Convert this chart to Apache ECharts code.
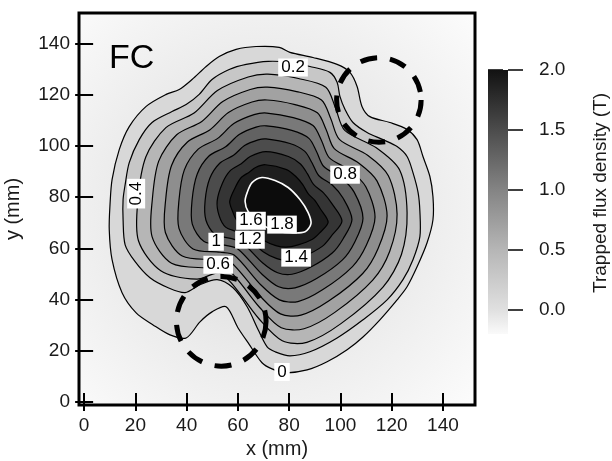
<!DOCTYPE html>
<html>
<head>
<meta charset="utf-8">
<script src="https://cdn.jsdelivr.net/npm/echarts@6/dist/echarts.min.js"></script>
<style>
  html, body { margin: 0; background: #fff; }
  #chart { width: 612px; height: 461px; }
</style>
</head>
<body>
<div id="chart"></div>
<script>
// trapped flux density map (FC) - contour levels in T, coordinates in mm
const levels = [0, 0.2, 0.4, 0.6, 0.8, 1.0, 1.2, 1.4, 1.6, 1.8, 2.0]

const lev00 = [[67.1,138.9],[76.1,138.6],[80.3,136.6],[89.3,134.6],[98.7,131.9],[103.7,128.8],[106.5,123.3],[108.4,115.5],[111.5,111.5],[119.3,109.2],[126.0,106.5],[129.9,102.5],[132.2,95.9],[134.9,88.1],[136.1,80.2],[136.1,71.2],[133.8,62.2],[129.9,52.8],[126.0,45.0],[122.1,39.9],[115.4,32.1],[108.8,25.4],[102.6,20.4],[94.8,15.7],[87.0,12.5],[78.4,11.4],[73.3,12.9],[69.4,15.3],[64.4,22.5],[60.0,29.0],[55.4,37.2],[49.9,35.2],[45.2,31.3],[39.8,25.0],[33.5,26.2],[26.9,30.1],[20.3,34.8],[14.8,42.7],[10.9,55.6],[9.8,67.3],[10.1,77.1],[10.9,86.9],[13.7,98.6],[17.6,107.6],[24.2,115.5],[32.0,120.2],[37.1,122.1],[42.1,126.0],[47.6,131.1],[52.7,135.0],[59.3,137.8]]
const lev02 = [[63.2,131.9],[71.8,133.1],[80.3,132.7],[88.1,131.1],[95.9,128.8],[98.7,124.9],[99.8,119.4],[101.8,114.3],[104.9,109.2],[110.4,105.3],[116.6,102.5],[122.1,99.8],[126.0,95.9],[128.3,89.6],[130.3,81.8],[131.0,74.4],[131.0,64.6],[128.3,55.6],[124.4,47.8],[118.2,39.9],[108.8,32.1],[98.7,25.0],[88.1,19.6],[80.3,18.0],[74.5,19.6],[71.4,21.5],[67.9,28.2],[63.6,37.2],[58.1,44.6],[51.9,47.8],[45.2,45.8],[39.4,42.7],[32.8,44.6],[25.7,48.5],[19.9,54.8],[16.0,61.4],[15.2,71.2],[15.2,79.1],[16.0,84.9],[17.6,93.5],[21.5,102.5],[26.5,109.2],[34.3,113.5],[39.8,116.2],[44.9,120.2],[49.9,126.0],[56.6,129.9]]
const lev04 = [[71.7,128.1],[83.6,126.4],[94.3,123.0],[98.0,115.1],[101.7,106.1],[114.0,99.3],[123.1,90.6],[126.0,73.9],[123.8,57.6],[116.6,44.9],[100.2,30.6],[86.9,23.3],[77.3,23.9],[68.2,32.5],[53.5,50.2],[44.0,48.0],[29.9,51.3],[21.2,63.0],[21.0,79.0],[24.1,95.8],[31.9,107.2],[42.9,112.9],[52.0,121.7],[64.0,127.0]]
const lev06 = [[71.5,123.0],[82.9,121.3],[92.6,118.0],[96.2,110.8],[99.6,102.6],[110.6,96.4],[118.7,88.4],[122.1,73.4],[119.2,58.8],[112.6,47.6],[97.8,35.0],[85.8,28.6],[76.9,29.0],[68.5,36.9],[55.2,52.6],[47.8,52.4],[34.1,54.2],[26.5,64.6],[26.6,79.0],[29.1,94.1],[36.1,104.4],[45.9,109.6],[54.1,117.4],[64.8,122.1]]
const lev08 = [[71.4,118.0],[82.3,116.2],[91.0,113.0],[94.4,106.5],[97.6,99.0],[107.1,93.4],[114.3,86.3],[118.2,72.8],[114.7,60.0],[108.7,50.2],[95.4,39.4],[84.6,33.9],[76.6,34.4],[68.8,41.2],[56.8,55.0],[50.5,55.6],[38.3,57.0],[31.7,66.2],[31.8,78.9],[34.1,92.4],[40.3,101.6],[49.0,106.3],[56.3,113.1],[65.5,117.2]]
const lev10 = [[71.3,112.9],[81.6,111.1],[89.3,108.0],[92.6,102.2],[95.6,95.5],[103.7,90.5],[109.9,84.1],[113.5,72.3],[110.1,61.2],[104.7,52.9],[93.0,43.8],[83.4,39.2],[76.2,39.9],[69.1,45.6],[58.5,57.4],[53.1,58.5],[42.5,59.8],[37.0,67.8],[37.0,78.8],[39.1,90.7],[44.5,98.8],[52.1,103.0],[58.4,108.8],[66.3,112.3]]
const lev12 = [[71.1,107.9],[81.0,106.1],[87.7,103.0],[90.7,97.8],[93.5,92.0],[100.3,87.6],[105.4,81.9],[108.8,71.8],[105.6,62.5],[100.8,55.5],[90.7,48.2],[82.3,44.6],[75.9,45.0],[69.4,49.9],[60.1,59.7],[55.3,61.2],[46.8,62.7],[42.2,69.5],[42.1,78.7],[44.1,89.0],[48.7,96.1],[55.2,99.7],[60.5,104.5],[67.1,107.4]]
const lev14 = [[71.0,102.8],[80.3,101.0],[86.0,98.0],[88.9,93.5],[91.5,88.5],[96.9,84.7],[101.0,79.7],[104.5,71.3],[101.0,63.7],[96.8,58.2],[88.3,52.6],[81.1,49.9],[75.5,50.5],[69.7,54.3],[61.8,62.1],[57.6,63.8],[51.0,65.5],[47.5,71.1],[47.2,78.6],[49.0,87.3],[52.9,93.3],[58.3,96.4],[62.6,100.2],[67.9,102.4]]
const lev16 = [[70.9,97.8],[79.7,95.9],[84.4,93.0],[87.1,89.2],[89.5,85.0],[93.4,81.7],[96.6,77.6],[100.6,70.7],[96.5,64.9],[92.9,60.8],[85.9,57.0],[79.9,55.2],[75.2,56.0],[70.0,58.6],[63.4,64.5],[59.9,66.4],[55.2,68.3],[52.7,72.7],[51.9,78.5],[54.0,85.6],[57.1,90.5],[61.3,93.1],[64.8,95.9]]
const lev18 = [[70.7,92.7],[79.0,90.8],[82.7,88.0],[85.3,84.9],[87.4,81.4],[90.0,78.8],[92.2,75.4],[95.2,70.2],[91.9,66.1],[88.9,63.5],[83.5,61.4],[78.8,60.5],[74.8,61.1],[70.3,63.0],[65.1,66.9],[62.2,69.1],[59.4,71.2],[58.0,74.3],[56.8,78.4],[59.0,83.9],[61.3,87.7],[64.4,89.8],[66.9,91.6]]
const lev20 = [[69.4,87.7],[74.5,86.5],[79.6,83.8],[84.2,79.1],[87.4,74.0],[88.5,69.7],[86.2,66.5],[80.3,66.1],[73.3,67.3],[67.9,70.5],[64.0,74.4],[62.8,78.3],[63.6,81.8],[65.5,85.7]]
const contours = [lev00, lev02, lev04, lev06, lev08, lev10, lev12, lev14, lev16, lev18, lev20]

// contour labels: text, x, y, rotation (deg)
const contourLabels = [
  ['0', 77.2, 11.7, 0], ['0.2', 81.5, 130.7, 0], ['0.4', 20.3, 81.4, 90],
  ['0.6', 52.3, 53.6, 0], ['0.8', 101.8, 88.8, 0], ['1', 51.5, 62.6, 0],
  ['1.2', 64.7, 63.4, 0], ['1.4', 82.7, 56.4, 0], ['1.6', 65.1, 70.8, 0],
  ['1.8', 77.2, 69.3, 0]
]
// dashed circles: cx, cy, r (mm)
const circles = [[115, 118, 16.5], [53.5, 31.5, 17.5]]

const axisTicks = [0, 20, 40, 60, 80, 100, 120, 140]
const colorTicks = [0, 0.5, 1.0, 1.5, 2.0]
const colorRange = [-0.2, 2.0]

const FONT = '"Liberation Sans", Arial, Helvetica, sans-serif'
const grayStops = [[-0.2, 250], [0, 224], [0.5, 182], [1.0, 132], [1.5, 76], [2.0, 18]]
function gray(v) {
  if (v <= grayStops[0][0]) return grayStops[0][1]
  for (let i = 1; i < grayStops.length; i++) {
    const a = grayStops[i - 1], b = grayStops[i]
    if (v <= b[0]) return a[1] + (b[1] - a[1]) * (v - a[0]) / (b[0] - a[0])
  }
  return grayStops[grayStops.length - 1][1] - 6
}
function grayColor(v) {
  const g = Math.round(gray(v))
  return 'rgb(' + g + ',' + g + ',' + g + ')'
}

const chart = echarts.init(document.getElementById('chart'))

const tickStyle = { show: true, inside: true, length: 9, lineStyle: { width: 2, color: '#000' }, customValues: axisTicks }
const labelStyle = { customValues: axisTicks, fontSize: 19, color: '#1a1a1a', fontFamily: FONT }
const nameStyle = { fontSize: 20, color: '#1a1a1a', fontFamily: FONT }

chart.setOption({
  animation: false,
  title: {
    text: 'FC', left: 104, top: 37,
    textStyle: { fontSize: 34, fontWeight: 'normal', color: '#000', fontFamily: FONT }
  },
  grid: [
    {
      left: 79, top: 13, width: 396, height: 392, show: true, outerBoundsMode: 'none',
      borderColor: '#000', borderWidth: 3,
      backgroundColor: new echarts.graphic.RadialGradient(0.47, 0.5, 0.75, [
        { offset: 0, color: '#d6d6d6' }, { offset: 0.5, color: '#ebebeb' }, { offset: 1, color: '#fdfdfd' }
      ])
    },
    { left: 488, top: 70, width: 20, height: 264, outerBoundsMode: 'none' }
  ],
  xAxis: [
    {
      gridIndex: 0, type: 'value', min: -2, max: 152.5, position: 'bottom',
      name: 'x (mm)', nameLocation: 'middle', nameGap: 32, nameTextStyle: nameStyle,
      axisLine: { show: false }, splitLine: { show: false },
      axisTick: tickStyle, axisLabel: Object.assign({ margin: 11 }, labelStyle)
    },
    {
      gridIndex: 0, type: 'value', min: -2, max: 152.5, position: 'top',
      axisLine: { show: false }, splitLine: { show: false },
      axisTick: tickStyle, axisLabel: { show: false }
    },
    { gridIndex: 1, type: 'value', min: 0, max: 1, show: false }
  ],
  yAxis: [
    {
      gridIndex: 0, type: 'value', min: -1.2, max: 152, position: 'left',
      name: 'y (mm)', nameLocation: 'middle', nameGap: 56, nameTextStyle: nameStyle,
      axisLine: { show: false }, splitLine: { show: false },
      axisTick: tickStyle, axisLabel: Object.assign({ margin: 9 }, labelStyle)
    },
    {
      gridIndex: 0, type: 'value', min: -1.2, max: 152, position: 'right',
      axisLine: { show: false }, splitLine: { show: false },
      axisTick: tickStyle, axisLabel: { show: false }
    },
    {
      gridIndex: 1, type: 'value', min: colorRange[0], max: colorRange[1], position: 'right',
      axisLine: { show: false }, splitLine: { show: false },
      axisTick: { show: true, length: 15, lineStyle: { width: 1.5, color: '#000' }, customValues: colorTicks },
      axisLabel: {
        customValues: colorTicks, margin: 31, fontSize: 19, color: '#1a1a1a', fontFamily: FONT,
        formatter: v => v.toFixed(1)
      }
    }
  ],
  graphic: [{
    type: 'text', x: 601, y: 193, rotation: Math.PI / 2,
    style: {
      text: 'Trapped flux density (T)', fontSize: 19, fill: '#1a1a1a', fontFamily: FONT,
      align: 'center', verticalAlign: 'middle'
    }
  }],
  series: [
    {
      // filled contour bands, outer to inner
      type: 'custom', xAxisIndex: 0, yAxisIndex: 0, clip: true,
      data: levels.map((v, i) => [i, v]),
      renderItem: (params, api) => {
        const i = params.dataIndex
        const pts = contours[i].map(p => api.coord(p))
        const last = i === levels.length - 1
        return {
          type: 'polygon',
          shape: { points: pts, smooth: 0.3 },
          style: {
            fill: grayColor(last ? 2.1 : levels[i] + 0.1),
            stroke: last ? '#fff' : '#000',
            lineWidth: last ? 1.6 : 1.2
          }
        }
      }
    },
    {
      type: 'custom', xAxisIndex: 0, yAxisIndex: 0,
      data: contourLabels.map(d => [d[1], d[2]]),
      renderItem: (params, api) => {
        const d = contourLabels[params.dataIndex]
        const c = api.coord([d[1], d[2]])
        return {
          type: 'text', x: c[0], y: c[1], rotation: d[3] * Math.PI / 180,
          style: {
            text: d[0], fontSize: 17, fill: '#000', fontFamily: FONT,
            backgroundColor: '#fff', padding: [1, 3, 0, 3],
            align: 'center', verticalAlign: 'middle'
          }
        }
      }
    },
    {
      type: 'custom', xAxisIndex: 0, yAxisIndex: 0,
      data: circles.map(c => [c[0], c[1]]),
      renderItem: (params, api) => {
        const c = circles[params.dataIndex]
        const p = api.coord([c[0], c[1]])
        const s = api.size([c[2], c[2]])
        return {
          type: 'circle',
          shape: { cx: p[0], cy: p[1], r: (s[0] + s[1]) / 2 },
          style: { fill: 'none', stroke: '#000', lineWidth: 5, lineDash: [17, 13] }
        }
      }
    },
    {
      // colour bar
      type: 'custom', xAxisIndex: 2, yAxisIndex: 2,
      data: [[0, colorRange[0]]],
      renderItem: (params, api) => {
        const a = api.coord([0, colorRange[1]])
        const b = api.coord([1, colorRange[0]])
        const span = colorRange[1] - colorRange[0]
        const stops = grayStops.slice().reverse().map(s => ({
          offset: (colorRange[1] - s[0]) / span,
          color: grayColor(s[0])
        }))
        return {
          type: 'rect',
          shape: { x: a[0], y: a[1], width: b[0] - a[0], height: b[1] - a[1] },
          style: { fill: new echarts.graphic.LinearGradient(0, 0, 0, 1, stops) }
        }
      }
    },
    {
      // colour bar tick marks
      type: 'custom', xAxisIndex: 2, yAxisIndex: 2,
      data: colorTicks.map(v => [1, v]),
      renderItem: (params, api) => {
        const p = api.coord([1, colorTicks[params.dataIndex]])
        return {
          type: 'line',
          shape: { x1: p[0], y1: p[1], x2: p[0] + 15, y2: p[1] },
          style: { stroke: '#000', lineWidth: 1.5 }
        }
      }
    }
  ]
})
</script>
</body>
</html>
